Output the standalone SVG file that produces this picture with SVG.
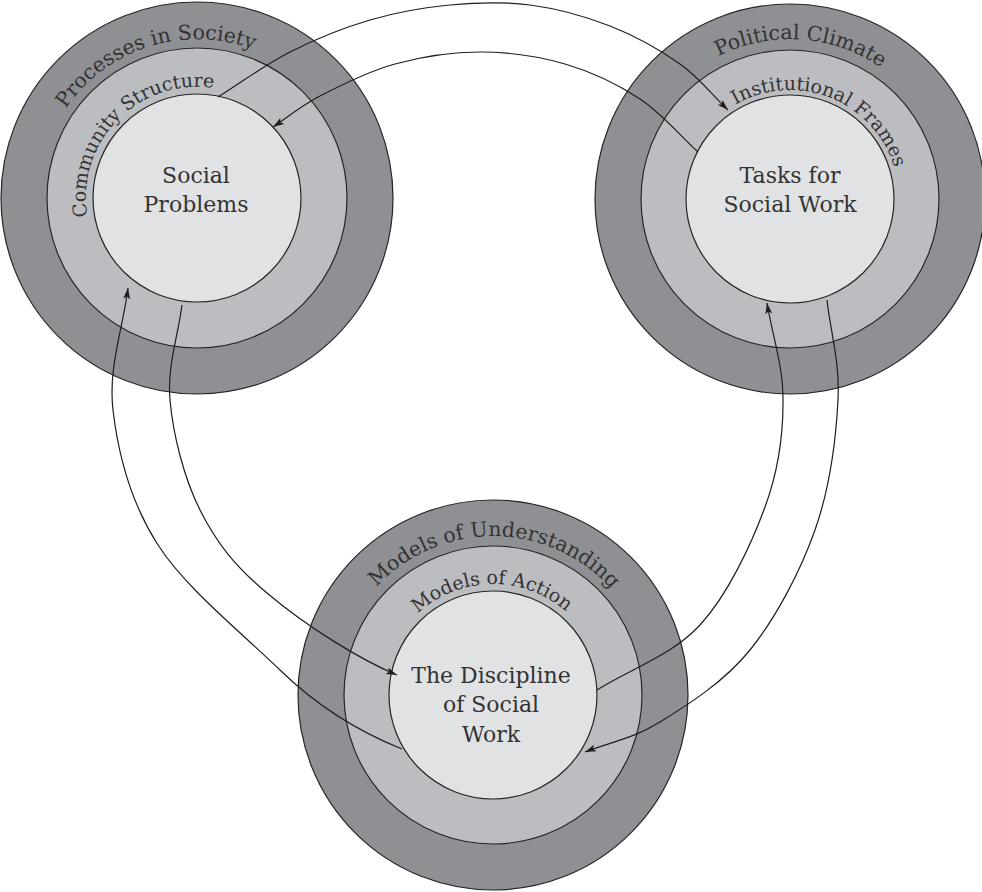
<svg xmlns="http://www.w3.org/2000/svg" width="982" height="892" viewBox="0 0 982 892">
<style>
.outer{fill:#8f9094;stroke:#262626;stroke-width:1.2}
.middle{fill:#bcbdc1;stroke:#262626;stroke-width:1.2}
.inner{fill:#e1e2e4;stroke:#262626;stroke-width:1.2}
.lbl{font-family:"DejaVu Serif","Liberation Serif",serif;fill:#333;font-size:22px;text-anchor:middle}
.ring1{font-family:"DejaVu Serif","Liberation Serif",serif;fill:#333;font-size:20.5px}
.ring2{font-family:"DejaVu Serif","Liberation Serif",serif;fill:#333;font-size:19px}
.conn{fill:none;stroke:#1e1e1e;stroke-width:1.2}
</style>
<defs>
<marker id="arrow" markerUnits="userSpaceOnUse" markerWidth="12" markerHeight="8" refX="11" refY="4" orient="auto">
<path d="M0,0.5 L11,4 L0,7.5 L2.5,4 Z" fill="#1e1e1e"/>
</marker>
<path id="p1o" d="M39.4,218.8 A159,159 0 0 1 338.0,124.6"/>
<path id="p1m" d="M106.6,262.5 A111,111 0 0 1 259.9,106.5"/>
<path id="p2o" d="M634.8,160.3 A160,160 0 0 1 949.1,182.3"/>
<path id="p2m" d="M697.2,141.9 A109,109 0 0 1 896.8,220.9"/>
<path id="p3o" d="M336.7,666.0 A159,159 0 0 1 649.8,668.8"/>
<path id="p3m" d="M383.5,677.1 A111,111 0 0 1 602.1,674.4"/>
</defs>

<g id="node-social-problems">
<circle class="outer" cx="197" cy="198" r="196"/>
<circle class="middle" cx="197" cy="198" r="150"/>
<circle class="inner" cx="197" cy="198" r="104"/>
<text class="ring1"><textPath href="#p1o" startOffset="50%" text-anchor="middle">Processes in Society</textPath></text>
<text class="ring2"><textPath href="#p1m" startOffset="50%" text-anchor="middle">Community Structure</textPath></text>
<text class="lbl" x="196" y="183">Social</text>
<text class="lbl" x="196" y="212">Problems</text>
</g>

<g id="node-tasks-for-social-work">
<circle class="outer" cx="790" cy="199" r="195"/>
<circle class="middle" cx="790" cy="199" r="149"/>
<circle class="inner" cx="790" cy="199" r="104"/>
<text class="ring1"><textPath href="#p2o" startOffset="50%" text-anchor="middle">Political Climate</textPath></text>
<text class="ring2"><textPath href="#p2m" startOffset="50%" text-anchor="middle">Institutional Frames</textPath></text>
<text class="lbl" x="790" y="183">Tasks for</text>
<text class="lbl" x="790" y="212">Social Work</text>
</g>

<g id="node-discipline-of-social-work">
<circle class="outer" cx="493" cy="695" r="195"/>
<circle class="middle" cx="493" cy="695" r="149"/>
<circle class="inner" cx="493" cy="695" r="104"/>
<text class="ring1"><textPath href="#p3o" startOffset="50%" text-anchor="middle">Models of Understanding</textPath></text>
<text class="ring2"><textPath href="#p3m" startOffset="50%" text-anchor="middle">Models of Action</textPath></text>
<text class="lbl" x="491" y="683">The Discipline</text>
<text class="lbl" x="491" y="712">of Social</text>
<text class="lbl" x="491" y="742">Work</text>
</g>

<g id="connectors">
<path id="c-a" class="conn" marker-end="url(#arrow)" d="M218,97 C242,82 264.7,64.8 290,52 C315.3,39.2 343.3,27.8 370,20 C396.7,12.2 423.3,7.5 450,5 C476.7,2.5 503.3,1.5 530,5 C556.7,8.5 585,16.2 610,26 C635,35.8 660.3,50 680,64 C699.7,78 712,94.7 728,110"/>
<path id="c-b" class="conn" marker-end="url(#arrow)" d="M698,152 C678.7,134.3 662.2,113.7 640,99 C617.8,84.3 591.7,71.8 565,64 C538.3,56.2 508.3,52 480,52 C451.7,52 421.7,56.7 395,64 C368.3,71.3 340.3,85.5 320,96 C299.7,106.5 288.7,116.7 273,127"/>
<path id="c-c" class="conn" marker-end="url(#arrow)" d="M182,305 C178,336.7 167,365.8 170,400 C173,434.2 183.8,477.8 200,510 C216.2,542.2 234.2,565.5 267,593 C307,627 361,660 397,675"/>
<path id="c-d" class="conn" marker-end="url(#arrow)" d="M402,749 C362,733 318,707 280,670 C242,633 185.8,588.3 158,545 C130.2,501.7 118,452.8 113,410 C108,367.2 123,328.7 128,288"/>
<path id="c-e" class="conn" marker-end="url(#arrow)" d="M597,690 C631.3,668.3 672,655.5 700,625 C728,594.5 751.2,544.5 765,507 C778.8,469.5 783.3,434 783,400 C783.3,366 772.3,335.3 767,303"/>
<path id="c-f" class="conn" marker-end="url(#arrow)" d="M827,300 C830.7,333.3 840,361.7 838,400 C836,438.3 829.7,488.3 815,530 C800.3,571.7 775.8,618 750,650 C724.2,682 687.5,705 660,722 C632.5,739 610,742 585,752"/>
</g>
</svg>
